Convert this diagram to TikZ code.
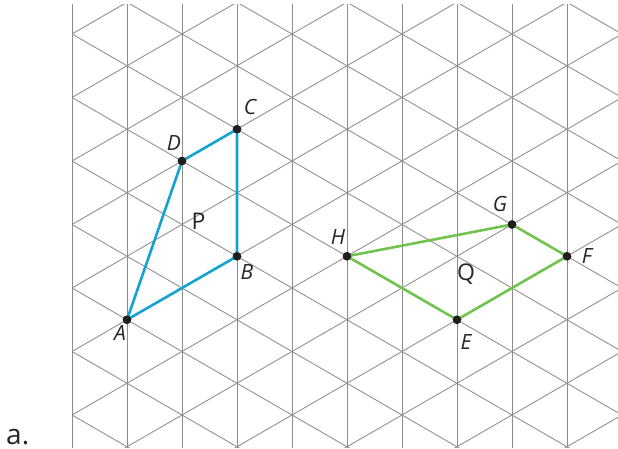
\documentclass[tikz,border=0pt]{standalone}
\usepackage{fontspec}
\setmainfont{Open Sans}
\begin{document}
\begin{tikzpicture}[x=1pt,y=-1pt,
  gridline/.style={draw=black!45,line width=0.85pt},
  bluepoly/.style={draw=shapeblue,line width=2.6pt,line join=round},
  greenpoly/.style={draw=shapegreen,line width=2.6pt,line join=round},
  dot/.style={circle,fill=black!88,inner sep=0pt,minimum size=8.5pt},
  lab/.style={inner sep=0pt,font=\fontsize{21}{21}\selectfont\itshape,text=black!85},
  big/.style={inner sep=0pt,font=\fontsize{23}{23}\selectfont,text=black!85}]
\definecolor{shapeblue}{RGB}{20,162,210}
\definecolor{shapegreen}{RGB}{112,196,78}
\useasboundingbox (0,0) rectangle (618,449);
\begin{scope}
  \clip (72,4.3) rectangle (618,447.7);
  \foreach \k in {0,...,10} {
    \draw[gridline] ({72+55*\k},0) -- ({72+55*\k},449);
  }
  \foreach \n in {-8,...,14} {
    \draw[gridline] (72,{34+63.5*\n}) -- (672,{34+63.5*\n-346.41});
    \draw[gridline] (72,{34+63.5*\n}) -- (672,{34+63.5*\n+346.41});
  }
\end{scope}
% points
\node[dot] (A) at (127,319.75) {};
\node[dot] (B) at (237,256.25) {};
\node[dot] (C) at (237,129.25) {};
\node[dot] (D) at (182,161) {};
\node[dot] (H) at (347,256.25) {};
\node[dot] (G) at (512,224.5) {};
\node[dot] (F) at (567,256.25) {};
\node[dot] (E) at (457,319.75) {};
% polygons
\draw[bluepoly] (A.center) -- (B.center) -- (C.center) -- (D.center) -- cycle;
\draw[greenpoly] (H.center) -- (G.center) -- (F.center) -- (E.center) -- cycle;
% redraw dots on top
\foreach \p in {A,B,C,D,H,G,F,E} {
  \fill[black!88] (\p.center) circle (4.25pt);
}
% labels
\node[lab] (lA) at (120,333) {A};
\node[lab] (lB) at (247,272) {B};
\node[lab] (lC) at (250,107) {C};
\node[lab] (lD) at (174,143) {D};
\node[lab] (lH) at (338,237) {H};
\node[lab] (lG) at (500,204) {G};
\node[lab] (lF) at (587,256) {F};
\node[lab] (lE) at (466,342) {E};
\node[big] (lP) at (198.5,221) {P};
\node[big,anchor=base] (lQ) at (466,280.5) {Q};
\node[inner sep=0pt,anchor=base west,font=\fontsize{28}{28}\selectfont,text=black!85] (la) at (6,444) {a.};
\end{tikzpicture}
\end{document}
